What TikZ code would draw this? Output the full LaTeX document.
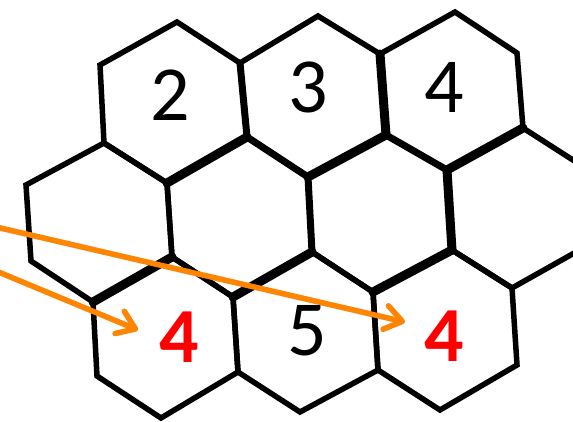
\documentclass[tikz,border=0pt]{standalone}
\usepackage{fontspec}
\setmainfont{Carlito}
\usetikzlibrary{arrows.meta}
\definecolor{arroworange}{RGB}{255,133,0}
\definecolor{numred}{RGB}{255,0,0}
\begin{document}
\begin{tikzpicture}[x=1pt,y=-1pt,
  hexline/.style={line width=5.5pt, line join=miter, black},
  medline/.style={line width=7pt, line cap=round, black},
  thickline/.style={line width=9pt, line cap=round, black},
  numtext/.style={inner sep=0pt, font=\fontsize{78}{80}\selectfont},
  rednum/.style={inner sep=0pt, text=numred, font=\fontsize{78}{80}\selectfont\bfseries},
  pointer/.style={line width=5.5pt, arroworange, -{Straight Barb[length=17pt,width=24pt,round]}},
  pointershadow/.style={line width=5.5pt, black, opacity=0.13, -{Straight Barb[length=17pt,width=24pt,round]}}
]
\useasboundingbox (0,0) rectangle (573,422);
% vertices
\coordinate (a1) at (177,22);
\coordinate (a2) at (318,16);
\coordinate (a3) at (455,12);
\coordinate (b0) at (100,65);
\coordinate (b1) at (240,63);
\coordinate (b2) at (380,54);
\coordinate (b3) at (517,53);
\coordinate (c0) at (104,143);
\coordinate (c1) at (247,137);
\coordinate (c2) at (386,135);
\coordinate (c3) at (523,128);
\coordinate (d0) at (26,185);
\coordinate (d1) at (167,183);
\coordinate (d2) at (308,177);
\coordinate (d3) at (447,170);
\coordinate (d4) at (576,162);
\coordinate (e0) at (31,261);
\coordinate (e1) at (172,257);
\coordinate (e2) at (312,252);
\coordinate (e3) at (452,250);
\coordinate (e4) at (576,252);
\coordinate (f0) at (93,302);
\coordinate (f1) at (233,297);
\coordinate (f2) at (373,292);
\coordinate (f3) at (512,288);
\coordinate (g0) at (97,376);
\coordinate (g1) at (238,372);
\coordinate (g2) at (378,370);
\coordinate (g3) at (517,365);
\coordinate (h0) at (161,418);
\coordinate (h1) at (300,412);
\coordinate (h2) at (440,410);
% hexagon outlines
\draw[hexline] (a1) -- (b1) -- (c1) -- (d1) -- (c0) -- (b0) -- cycle;
\draw[hexline] (a2) -- (b2) -- (c2) -- (d2) -- (c1) -- (b1) -- cycle;
\draw[hexline] (a3) -- (b3) -- (c3) -- (d3) -- (c2) -- (b2) -- cycle;
\draw[hexline] (c0) -- (d1) -- (e1) -- (f0) -- (e0) -- (d0) -- cycle;
\draw[hexline] (c1) -- (d2) -- (e2) -- (f1) -- (e1) -- (d1) -- cycle;
\draw[hexline] (c2) -- (d3) -- (e3) -- (f2) -- (e2) -- (d2) -- cycle;
\draw[hexline] (d4) -- (c3);
\draw[hexline] (e3) -- (f3) -- (e4);
\draw[hexline] (e1) -- (f1) -- (g1) -- (h0) -- (g0) -- (f0) -- cycle;
\draw[hexline] (e2) -- (f2) -- (g2) -- (h1) -- (g1) -- (f1) -- cycle;
\draw[hexline] (e3) -- (f3) -- (g3) -- (h2) -- (g2) -- (f2) -- cycle;
% heavier shared edges
\draw[medline] (b1) -- (c1);
\draw[medline] (c1) -- (d2);
\draw[medline] (c2) -- (d3);
\draw[medline] (d2) -- (e2);
\draw[thickline] (d1) -- (c1);
\draw[thickline] (b2) -- (c2);
\draw[thickline] (c2) -- (d2);
\draw[thickline] (c3) -- (d3);
\draw[thickline] (d3) -- (e3);
\draw[thickline] (f0) -- (e1);
\draw[thickline] (f1) -- (e2);
\draw[thickline] (f2) -- (e3);
% numbers
\node[numtext] (n2) at (170,95) {2};
\node[numtext] (n3) at (308,87) {3};
\node[numtext] (n4) at (444,87) {4};
\node[numtext] (n5) at (307,331) {5};
\node[rednum] (r4a) at (179,337) {4};
\node[rednum] (r4b) at (444,336) {4};
% arrows
\coordinate (sA) at (-4,227);
\coordinate (tA) at (405,322);
\coordinate (sB) at (-4,271);
\coordinate (tB) at (138,330);
\begin{scope}[shift={(1.5,3)}]
  \draw[pointershadow] (sA) -- (tA);
  \draw[pointershadow] (sB) -- (tB);
\end{scope}
\draw[pointer] (sA) -- (tA);
\draw[pointer] (sB) -- (tB);
\end{tikzpicture}
\end{document}
